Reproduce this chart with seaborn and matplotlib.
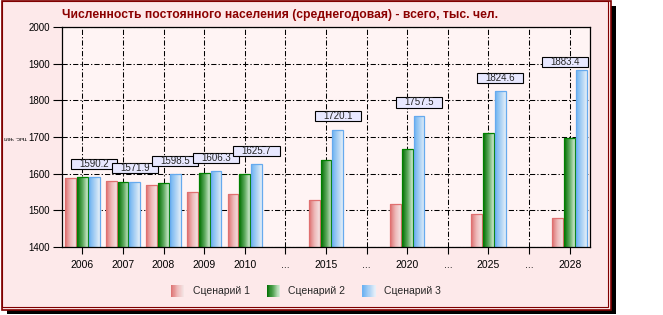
import numpy as np
import pandas as pd
import matplotlib
matplotlib.use("Agg")
import matplotlib.pyplot as plt
import seaborn as sns
from matplotlib.patches import Rectangle
from matplotlib.path import Path
from matplotlib.legend_handler import HandlerBase
from matplotlib.colors import LinearSegmentedColormap

# ---------------- data ----------------
categories = ['2006', '2007', '2008', '2009', '2010', '...', '2015', '...',
              '2020', '...', '2025', '...', '2028']
scenario_1 = [1588, 1580, 1569, 1550, 1545, np.nan, 1528, np.nan, 1516, np.nan, 1491, np.nan, 1480]
scenario_2 = [1590, 1578, 1575, 1601, 1598, np.nan, 1636, np.nan, 1668, np.nan, 1712, np.nan, 1698]
scenario_3 = [1590.2, 1577.9, 1598.5, 1606.3, 1625.7, np.nan, 1720.1, np.nan, 1757.5, np.nan,
              1824.6, np.nan, 1883.4]
scenario_3_labels = ['1590.2', '1571.9', '1598.5', '1606.3', '1625.7', '', '1720.1', '',
                     '1757.5', '', '1824.6', '', '1883.4']
series_names = ['Сценарий 1', 'Сценарий 2', 'Сценарий 3']
y_ticks = [1400, 1500, 1600, 1700, 1800, 1900, 2000]
title_text = 'Численность постоянного населения (среднегодовая) - всего, тыс. чел.'
y_label = 'тыс. чел'

# ---------------- styling ----------------
sns.set_style("white")
plt.rcParams['font.family'] = ['Liberation Sans', 'DejaVu Sans']
narrow = ['Liberation Sans Narrow', 'Liberation Sans', 'DejaVu Sans']

W, H = 663, 315
fig = plt.figure(figsize=(W / 100, H / 100), dpi=100)
fig.patch.set_facecolor('white')

def px_rect(x0, y0, x1, y1, **kw):
    return Rectangle((x0 / W, 1 - y1 / H), (x1 - x0) / W, (y1 - y0) / H,
                     transform=fig.transFigure, **kw)

dark_red = '#800000'
fig.add_artist(px_rect(7, 6, 616, 314, facecolor='black', edgecolor='none', zorder=-3))
fig.add_artist(px_rect(2, 1, 611, 310, facecolor='#fde9ea', edgecolor=dark_red, lw=1.2, zorder=-2))
fig.add_artist(px_rect(2, 1, 608, 306.5, facecolor='none', edgecolor=dark_red, lw=0.8, zorder=-1))

ax = fig.add_axes([62 / W, 1 - 247 / H, (590 - 62) / W, (247 - 27) / H])
ax.set_facecolor('#fff4f4')

slots = [str(i) for i in range(len(categories))]
rows = []
for name, vals in zip(series_names, [scenario_1, scenario_2, scenario_3]):
    for s, v in zip(slots, vals):
        rows.append({'slot': s, 'scenario': name, 'value': v})
df = pd.DataFrame(rows)

edge_cols = ['#e07070', '#008000', '#66aaee']
grads = [
    LinearSegmentedColormap.from_list('r', ['#dd6f6f', '#eeb8b8', '#f4e4e4']),
    LinearSegmentedColormap.from_list('g', ['#006e00', '#5aa85a', '#d4ecd4']),
    LinearSegmentedColormap.from_list('b', ['#6cb2f2', '#a8d0f4', '#e6eff8']),
]

sns.barplot(data=df, x='slot', y='value', hue='scenario', order=slots,
            hue_order=series_names, palette=edge_cols, width=0.87, gap=0.08,
            errorbar=None, legend=False, ax=ax)

y_min, y_max = y_ticks[0], y_ticks[-1]
ax.set_xlim(-0.5, len(categories) - 0.5)
ax.set_ylim(y_min, y_max)

gradient = np.linspace(0, 1, 64).reshape(1, -1)
for ci, cont in enumerate(ax.containers):
    for bar in cont:
        h = bar.get_height()
        if not np.isfinite(h):
            continue
        x, w = bar.get_x(), bar.get_width()
        bar.set_facecolor('none')
        bar.set_edgecolor(edge_cols[ci])
        bar.set_linewidth(0.9)
        bar.set_zorder(2.2)
        im = ax.imshow(gradient, cmap=grads[ci], aspect='auto',
                       extent=[x, x + w, y_min, h], zorder=2.1, interpolation='bilinear')
        im.set_clip_path(bar)

ax.set_xlim(-0.5, len(categories) - 0.5)
ax.set_ylim(y_min, y_max)
ax.set_yticks(y_ticks)
ax.set_xticks(range(len(categories)))
ax.set_xticklabels(categories)
ax.set_xlabel('')
ax.set_ylabel('')

ax.grid(True, color='black', linestyle=(0, (5, 2, 1.2, 2)), linewidth=0.75)
ax.set_axisbelow(True)
for sp in ax.spines.values():
    sp.set_visible(True)
    sp.set_color('black')
    sp.set_linewidth(0.9)
    sp.set_zorder(3)
ax.tick_params(axis='both', direction='out', width=0.8, colors='black',
               bottom=True, left=True)
ax.tick_params(axis='x', length=5, pad=4.5, labelsize=7.5)
ax.tick_params(axis='y', length=6.5, pad=2, labelsize=7)
for lab in ax.get_yticklabels():
    lab.set_family(narrow)

# value labels over scenario 3
label_shift = {12: (-16, -6)}  # px shift for the last label (kept inside the frame)


class WideBox:
    def __call__(self, x0, y0, width, height, mutation_size):
        px_ = 0.85 * mutation_size
        py_ = 0.02 * mutation_size
        x0, y0 = x0 - px_, y0 - py_
        x1, y1 = x0 + width + 2 * px_, y0 + height + 2 * py_
        return Path([(x0, y0), (x1, y0), (x1, y1), (x0, y1), (x0, y0)], closed=True)


for bar in ax.containers[2]:
    h = bar.get_height()
    if not np.isfinite(h):
        continue
    xc = bar.get_x() + bar.get_width() / 2
    i = int(round(xc))
    dx, dy = label_shift.get(i, (0, 0))
    ax.annotate(scenario_3_labels[i], xy=(xc, h), xytext=(dx * 0.72, (13.5 + dy) * 0.72),
                textcoords='offset points', ha='center', va='center', fontsize=7,
                zorder=5, annotation_clip=False,
                bbox=dict(boxstyle=WideBox(), facecolor='#e8e8ff', edgecolor='black', lw=0.8))

# title, fitted to the reference width
title = fig.text(62 / W, 1 - 15 / H, title_text, ha='left', va='center', fontsize=9.5,
                 fontweight='bold', color='#8b0000', family=narrow)
fig.canvas.draw()
tw = title.get_window_extent().width
title.set_fontsize(9.5 * 431 / tw)

# y label (upside down), fitted between the frame and the tick labels
renderer = fig.canvas.get_renderer()
tick_left = min(l.get_window_extent(renderer).x0 for l in ax.get_yticklabels() if l.get_text())
right_px = tick_left - 2.0
left_px = 4.0
ylab = fig.text(right_px / W, 1 - 137 / H, y_label, rotation=180, ha='right',
                va='center', fontsize=6.5, color='black', family=narrow)
lw_ = ylab.get_window_extent(renderer).width
if lw_ > right_px - left_px:
    ylab.set_fontsize(6.5 * (right_px - left_px) / lw_)


# legend with gradient swatches
class GradHandler(HandlerBase):
    def __init__(self, cmap):
        super().__init__()
        self.cmap = cmap

    def create_artists(self, legend, orig_handle, xdescent, ydescent, width, height,
                       fontsize, trans):
        n = 24
        arts = []
        for k in range(n):
            arts.append(Rectangle((-xdescent + width * k / n, -ydescent), width / n * 1.08,
                                  height, facecolor=self.cmap(k / (n - 1)),
                                  edgecolor='none', transform=trans))
        return arts


handles = [Rectangle((0, 0), 1, 1) for _ in series_names]
hmap = {hd: GradHandler(cm) for hd, cm in zip(handles, grads)}
fig.legend(handles, series_names, handler_map=hmap, loc='center',
           bbox_to_anchor=(306 / W, 1 - 291 / H), ncol=3, frameon=False, fontsize=7.5,
           handlelength=1.25, handleheight=1.35, handletextpad=0.85, columnspacing=1.63,
           borderpad=0, borderaxespad=0)

fig.savefig('out.png', dpi=100, facecolor=fig.get_facecolor())
